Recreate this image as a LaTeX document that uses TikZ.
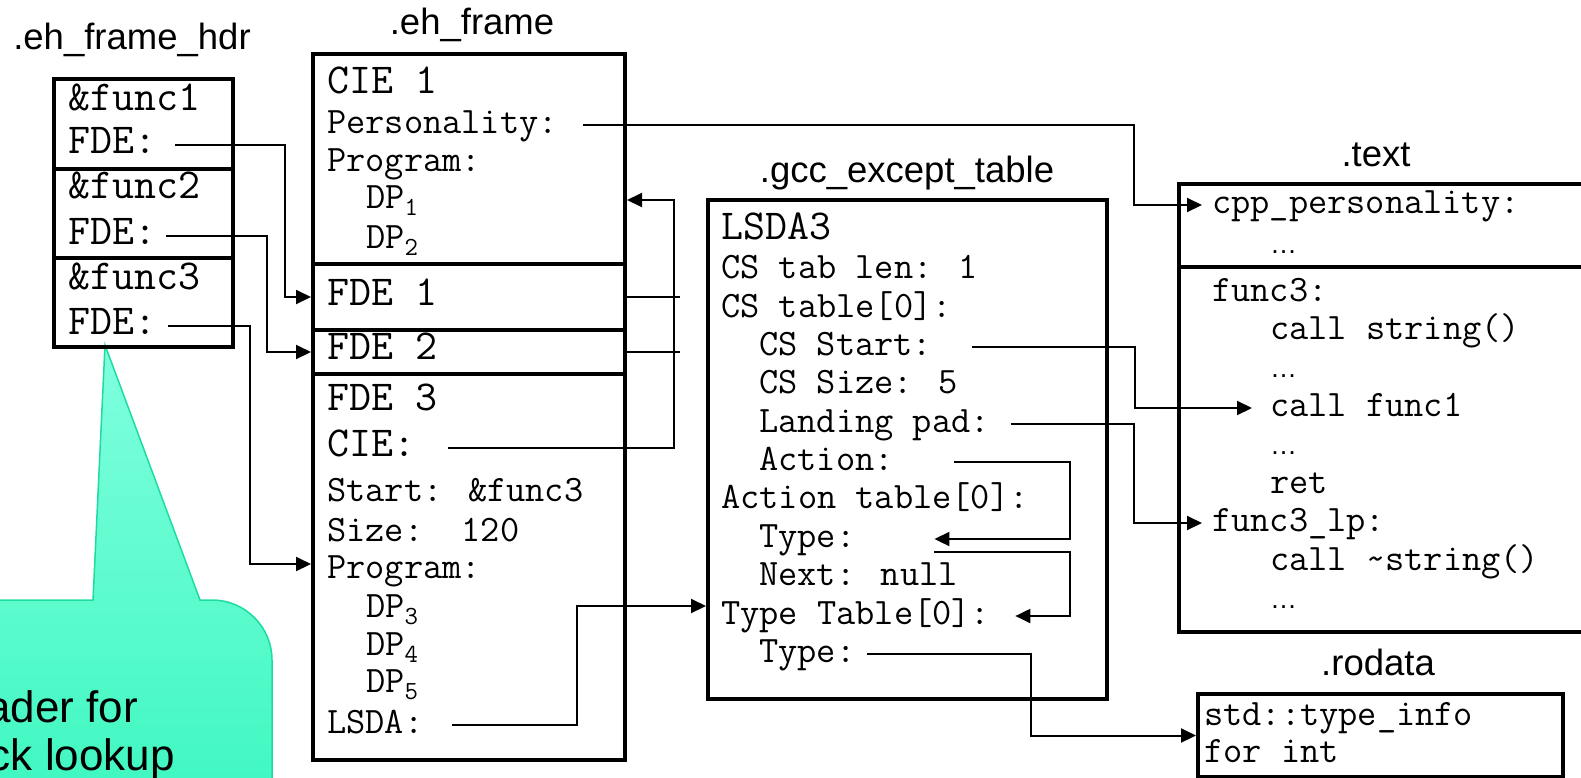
\documentclass[tikz,border=0pt]{standalone}
\usepackage{fontspec}
\setmainfont{Liberation Sans}
\usetikzlibrary{arrows.meta}

\newcommand\monosmall{\ttfamily\fontsize{37.3}{40}\selectfont}
\newcommand\monobig{\ttfamily\fontsize{42.7}{45}\selectfont}
\newcommand\titlefont{\rmfamily\fontsize{36.5}{40}\selectfont}
\newcommand\etc{{\rmfamily\fontsize{27}{28}\selectfont …}}
\definecolor{calloutA}{RGB}{128,255,222}
\definecolor{calloutB}{RGB}{48,246,186}
\definecolor{calloutEdge}{RGB}{30,220,160}

\begin{document}
\begin{tikzpicture}[x=1pt, y=-1pt,
  box/.style={rectangle, draw=black, line width=4pt, anchor=north west, inner sep=0pt},
  row/.style={anchor=base west, inner sep=0pt, text height=16pt, text depth=0pt, font=\monosmall},
  big/.style={font=\monobig},
  title/.style={anchor=base, inner sep=0pt, font=\titlefont},
  wire/.style={draw, line width=2pt},
  line/.style={wire, -{Triangle[length=15pt, width=14pt]}}]
\path[use as bounding box] (0,0) rectangle (1581,777);
\clip (0,0) rectangle (1581,777);

% callout under the header table
\draw[draw=calloutEdge, line width=1.5pt, top color=calloutA, bottom color=calloutB]
  (105,345) -- (200,600) -- (212,600) arc[start angle=90, end angle=0, radius=60pt]
  -- (272,900) -- (-300,900) -- (-300,600) -- (93,600) -- cycle;
\node[anchor=base west, inner sep=0pt, align=left, font=\rmfamily\fontsize{44}{48}\selectfont] (NOTE) at (-70,770) {Header for\\quick lookup};

% section titles
\node[title] (tHDR) at (132,49) {.eh\_frame\_hdr};
\node[title] (tEH) at (472,34) {.eh\_frame};
\node[title] (tGCC) at (907,182) {.gcc\_except\_table};
\node[title] (tTEXT) at (1376,166) {.text};
\node[title] (tRO) at (1378,675) {.rodata};

% .eh_frame_hdr
\node[box, minimum width=179pt, minimum height=90pt] (HDR1) at (52,77) {};
\node[box, minimum width=179pt, minimum height=89pt] (HDR2) at (52,167) {};
\node[box, minimum width=179pt, minimum height=89pt] (HDR3) at (52,256) {};
\node[row, big] (fn1) at (68,110) {\&func1};
\node[row, big] (hF1) at (68,153) {FDE:};
\node[row, big] (fn2) at (68,198) {\&func2};
\node[row, big] (hF2) at (68,244) {FDE:};
\node[row, big] (fn3) at (68,289) {\&func3};
\node[row, big] (hF3) at (68,334) {FDE:};

% .eh_frame
\node[box, minimum width=312pt, minimum height=210pt] (CIE) at (311,52) {};
\node[box, minimum width=312pt, minimum height=66pt] (FDEa) at (311,262) {};
\node[box, minimum width=312pt, minimum height=44pt] (FDEb) at (311,328) {};
\node[box, minimum width=312pt, minimum height=386pt] (FDEc) at (311,372) {};
\node[row, big] (cie1) at (327,93) {CIE 1};
\node[row] (pers) at (327,133) {Personality:};
\node[row] (prog1) at (327,171) {Program:};
\node[row] (dp1) at (366,208) {DP\textsubscript{1}};
\node[row] (dp2) at (366,248) {DP\textsubscript{2}};
\node[row, big] (fde1) at (327,305) {FDE 1};
\node[row, big] (fde2) at (327,359) {FDE 2};
\node[row, big] (fde3) at (327,410) {FDE 3};
\node[row, big] (cie3) at (327,456) {CIE:};
\node[row] (start) at (327,501) {Start: \&func3};
\node[row] (size) at (327,541) {Size:~~120};
\node[row] (prog3) at (327,578) {Program:};
\node[row] (dp3) at (366,617) {DP\textsubscript{3}};
\node[row] (dp4) at (366,655) {DP\textsubscript{4}};
\node[row] (dp5) at (366,692) {DP\textsubscript{5}};
\node[row] (lsda) at (327,733) {LSDA:};

% .gcc_except_table
\node[box, minimum width=399pt, minimum height=499pt] (LSDA) at (706,198) {};
\node[row, big] (lsda3) at (721,239) {LSDA3};
\node[row] (cslen) at (721,278) {CS tab len: 1};
\node[row] (cstab) at (721,317) {CS table[0]:};
\node[row] (csstart) at (759,355) {CS Start:};
\node[row] (cssize) at (759,393) {CS Size: 5};
\node[row] (lpad) at (759,432) {Landing pad:};
\node[row] (action) at (759,470) {Action:};
\node[row] (acttab) at (721,508) {Action table[0]:};
\node[row] (atype) at (759,547) {Type:};
\node[row] (next) at (759,585) {Next: null};
\node[row] (typetab) at (721,624) {Type Table[0]:};
\node[row] (ttype) at (759,662) {Type:};

% .text
\node[box, minimum width=420pt, minimum height=83pt] (PERS) at (1177,182) {};
\node[box, minimum width=420pt, minimum height=365pt] (FUNC) at (1177,265) {};
\node[row] (cpppers) at (1212,213) {cpp\_personality:};
\node[row] (etc1) at (1270,253) {\etc};
\node[row] (func3) at (1212,301) {func3:};
\node[row] (callstr) at (1270,339) {call string()};
\node[row] (etc2) at (1270,377) {\etc};
\node[row] (callf1) at (1270,416) {call func1};
\node[row] (etc3) at (1270,454) {\etc};
\node[row] (ret) at (1270,493) {ret};
\node[row] (lp) at (1212,531) {func3\_lp:};
\node[row] (calldstr) at (1270,570) {call \textasciitilde string()};
\node[row] (etc4) at (1270,608) {\etc};

% .rodata
\node[box, minimum width=365pt, minimum height=83pt] (RODATA) at (1196,692) {};
\node[row] (tinfo) at (1204,725) {std::type\_info};
\node[row] (forint) at (1204,762) {for int};

% pointers
\path[line] ([xshift=19pt]hF1.east) -- ++(110,0) |- (FDEa.west);
\path[line] ([xshift=10pt]hF2.east) -- ++(101,0) |- (FDEb.west);
\path[line] ([xshift=12pt]hF3.east) -- ++(82,0) |- ([yshift=6pt]prog3.west -| FDEc.west);
\path[line] ([xshift=25pt]pers.east) -- ++(551,0) |- ([xshift=-10pt]cpppers.west);
\path[wire] (FDEa.east) -- ++(53,0);
\path[wire] (FDEb.east) -- ++(53,0);
\path[line] ([xshift=33pt]cie3.east) -- ++(226,0) |- (dp1 -| CIE.east);
\path[line] ([xshift=29pt]lsda.east) -- ++(125,0) |- ([yshift=10pt]typetab.west -| LSDA.west);
\path[line] ([xshift=40pt]csstart.east) -- ++(163,0) |- ([xshift=-18pt]callf1.west);
\path[line] ([xshift=21pt]lpad.east) -- ++(123,0) |- ([xshift=-10pt]lp.west);
\path[line] ([xshift=60pt]action.east) -- ++(116,0) |- ([xshift=79pt]atype.east);
\path[line] ([xshift=79pt,yshift=-13pt]atype.east) -- ++(136,0) |- ([xshift=25pt]typetab.east);
\path[line] ([xshift=12pt]ttype.east) -- ++(164,0) |- (RODATA.west);
\end{tikzpicture}
\end{document}
